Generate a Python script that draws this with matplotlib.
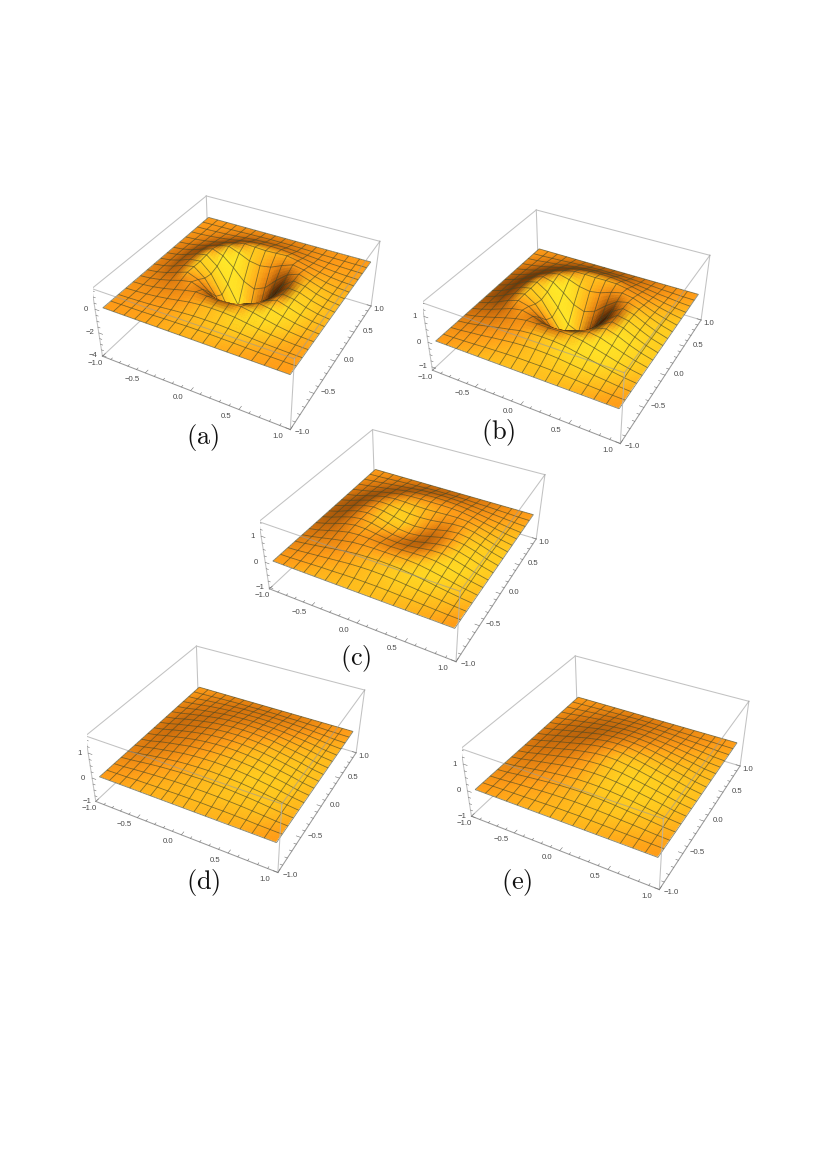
import numpy as np
import matplotlib
matplotlib.use("Agg")
import matplotlib.pyplot as plt
from matplotlib.colors import LinearSegmentedColormap
from mpl_toolkits.mplot3d.art3d import Poly3DCollection
from mpl_toolkits.mplot3d import proj3d

# heights, one quadrant (x>=0, y>=0) on the mesh nodes, centre at [0][0]
# the outer mesh line is z=0 and is padded on below
heights_a = [[-4.10,-3.40,-1.50,0.00,0.80,0.70,0.36,0.12],
             [-3.40,-2.70,-1.10,0.15,0.84,0.68,0.35,0.12],
             [-1.50,-1.10,-0.20,0.55,0.88,0.60,0.30,0.10],
             [0.00,0.15,0.55,0.88,0.72,0.45,0.23,0.08],
             [0.80,0.84,0.88,0.72,0.50,0.30,0.15,0.05],
             [0.70,0.68,0.60,0.45,0.30,0.18,0.09,0.03],
             [0.36,0.35,0.30,0.23,0.15,0.09,0.05,0.02],
             [0.12,0.12,0.10,0.08,0.05,0.03,0.02,0.01]]
heights_b = [[-1.10,-0.90,-0.30,0.28,0.60,0.52,0.32,0.13],
             [-0.90,-0.72,-0.15,0.35,0.61,0.51,0.31,0.13],
             [-0.30,-0.15,0.20,0.50,0.60,0.47,0.28,0.12],
             [0.28,0.35,0.50,0.60,0.53,0.38,0.23,0.10],
             [0.60,0.61,0.60,0.53,0.42,0.30,0.18,0.08],
             [0.52,0.51,0.47,0.38,0.30,0.21,0.12,0.05],
             [0.32,0.31,0.28,0.23,0.18,0.12,0.08,0.03],
             [0.13,0.13,0.12,0.10,0.08,0.05,0.03,0.01]]
heights_c = [[0.14,0.18,0.28,0.38,0.43,0.38,0.26,0.11],
             [0.18,0.21,0.30,0.39,0.43,0.37,0.25,0.11],
             [0.28,0.30,0.35,0.41,0.42,0.35,0.23,0.10],
             [0.38,0.39,0.41,0.42,0.39,0.30,0.19,0.08],
             [0.43,0.43,0.42,0.39,0.32,0.24,0.15,0.07],
             [0.38,0.37,0.35,0.30,0.24,0.17,0.11,0.05],
             [0.26,0.25,0.23,0.19,0.15,0.11,0.07,0.03],
             [0.11,0.11,0.10,0.08,0.07,0.05,0.03,0.01]]
heights_d = [[0.50,0.49,0.46,0.41,0.34,0.26,0.17,0.07],
             [0.49,0.48,0.45,0.40,0.33,0.25,0.17,0.07],
             [0.46,0.45,0.42,0.38,0.31,0.24,0.16,0.06],
             [0.41,0.40,0.38,0.34,0.28,0.21,0.14,0.06],
             [0.34,0.33,0.31,0.28,0.23,0.18,0.12,0.05],
             [0.26,0.25,0.24,0.21,0.18,0.14,0.09,0.04],
             [0.17,0.17,0.16,0.14,0.12,0.09,0.06,0.02],
             [0.07,0.07,0.06,0.06,0.05,0.04,0.02,0.01]]
heights_e = [[0.60,0.58,0.52,0.44,0.35,0.26,0.17,0.07],
             [0.58,0.56,0.50,0.43,0.34,0.25,0.16,0.07],
             [0.52,0.50,0.46,0.39,0.31,0.23,0.15,0.06],
             [0.44,0.43,0.39,0.34,0.27,0.20,0.13,0.05],
             [0.35,0.34,0.31,0.27,0.22,0.16,0.10,0.04],
             [0.26,0.25,0.23,0.20,0.16,0.12,0.08,0.03],
             [0.17,0.16,0.15,0.13,0.10,0.08,0.05,0.02],
             [0.07,0.07,0.06,0.05,0.04,0.03,0.02,0.01]]

panel_names = ["(a)", "(b)", "(c)", "(d)", "(e)"]
panel_heights = [heights_a, heights_b, heights_c, heights_d, heights_e]
z_limits = [(-4.08, 1.67), (-1.14, 1.51), (-1.07, 1.53), (-0.99, 1.66), (-1.0, 1.55)]
z_ticks = [[0, -2, -4], [1, 0, -1], [1, 0, -1], [1, 0, -1], [1, 0, -1]]
xy_ticks = [-1.0, -0.5, 0.0, 0.5, 1.0]

# box centre and axes size in pixels, label centre in pixels
centres = [(243, 298), (573, 312), (409, 531), (232, 745), (612, 758)]
sizes = [292, 292, 290, 283, 292]
label_pos = [(203, 437), (498, 433), (356, 658), (203, 882), (517, 882)]

W, H = 831, 1175
SUB = 4
ELEV, AZIM = 36.2, -61.6
# the surface stops a little short of the box walls
nodes = np.linspace(-0.94, 0.94, 17)

plt.rcParams["mathtext.fontset"] = "cm"
plt.rcParams["font.family"] = ["Liberation Sans", "DejaVu Sans"]

shade_map = LinearSegmentedColormap.from_list("shade", [
    (0.00, (0.25, 0.12, 0.02)),
    (0.23, (0.50, 0.25, 0.03)),
    (0.46, (0.85, 0.46, 0.05)),
    (0.66, (1.00, 0.61, 0.09)),
    (0.85, (1.00, 0.80, 0.12)),
    (1.00, (1.00, 0.92, 0.16))])
light = np.array([0.65, -0.5, 0.55])
light = light / np.linalg.norm(light)
toward_cam = np.array([np.cos(np.radians(ELEV)) * np.cos(np.radians(AZIM)),
                       np.cos(np.radians(ELEV)) * np.sin(np.radians(AZIM)),
                       np.sin(np.radians(ELEV))])


def full_grid(quadrant):
    q = np.pad(np.array(quadrant, dtype=float), ((0, 1), (0, 1)))
    q = np.concatenate([q[:0:-1], q], axis=0)
    return np.concatenate([q[:, :0:-1], q], axis=1)


def subdivide(A):
    # split each mesh quad, only so the shading can be blended across it
    pos = np.arange(16 * SUB + 1) / SUB
    i0 = np.minimum(pos.astype(int), 15)
    w = pos - i0
    A = A[i0] * (1 - w)[:, None] + A[i0 + 1] * w[:, None]
    return A[:, i0] * (1 - w) + A[:, i0 + 1] * w


def node_colours(Z, zlim):
    k = 1.8 * 0.4 / (zlim[1] - zlim[0])
    gy, gx = np.gradient(Z * k, nodes * 0.5, nodes * 0.5)
    n = np.dstack([-gx, -gy, np.ones_like(Z)])
    n = n / np.linalg.norm(n, axis=2, keepdims=True)
    s = (n @ light + 0.3) / 1.3
    return shade_map(np.clip(s, 0, 1))[..., :3]


def surface(ax, Z, zlim):
    X, Y = np.meshgrid(nodes, nodes)
    cols = node_colours(Z, zlim)
    P = np.dstack([subdivide(X), subdivide(Y), subdivide(Z)])
    C = np.dstack([subdivide(cols[..., c]) for c in range(3)])
    faces = np.stack([P[:-1, :-1], P[:-1, 1:], P[1:, 1:], P[1:, :-1]], axis=2).reshape(-1, 4, 3)
    fcol = ((C[:-1, :-1] + C[:-1, 1:] + C[1:, 1:] + C[1:, :-1]) / 4).reshape(-1, 3)
    fcol = np.column_stack([fcol, np.ones(len(fcol))])

    # mesh lines go in the same collection so the depth sort hides them behind the rim
    a = np.concatenate([P[::SUB, :-1].reshape(-1, 3), P[:-1, ::SUB].reshape(-1, 3)])
    b = np.concatenate([P[::SUB, 1:].reshape(-1, 3), P[1:, ::SUB].reshape(-1, 3)])
    shift = toward_cam * 0.07 * np.array([1, 1, (zlim[1] - zlim[0]) / 0.8])
    segs = np.stack([a, b, b, a], axis=1) + shift
    none = np.zeros((len(segs), 4))
    line = np.tile(MESH, (len(segs), 1))

    coll = Poly3DCollection(np.concatenate([faces, segs]),
                            facecolors=np.concatenate([fcol, none]),
                            edgecolors=np.concatenate([fcol, line]),
                            linewidths=0.6, zorder=2)
    ax.add_collection3d(coll)


def edge(ax, p, q, z=1, col="#c2c2c2", lw=0.75):
    ax.plot(*zip(p, q), color=col, lw=lw, zorder=z)


def tick_label(ax, txt, p, off):
    x2, y2, _ = proj3d.proj_transform(p[0], p[1], p[2], ax.get_proj())
    ax.annotate(txt, (x2, y2), xytext=(off[0] * 0.72, -off[1] * 0.72), textcoords="offset points",
                ha="center", va="center", fontsize=5.6, color="#4a4a4a", annotation_clip=False,
                zorder=5)


def fmt(v):
    return f"{v:.1f}".replace("-", "\u2212")


MESH = (0.28, 0.28, 0.15, 0.68)
fig = plt.figure(figsize=(W / 100, H / 100), dpi=100)

for name, q, zlim, zt, c, S, lab in zip(panel_names, panel_heights, z_limits, z_ticks, centres, sizes, label_pos):
    rect = [(c[0] - 0.5135 * S) / W, 1 - (c[1] + 0.5135 * S) / H, S / W, S / H]
    ax = fig.add_axes(rect, projection="3d", computed_zorder=False)
    ax.set_proj_type("persp", focal_length=0.44)
    ax.set_box_aspect((1, 1, 0.4))
    ax.view_init(elev=ELEV, azim=AZIM)
    ax.set_xlim(-1, 1)
    ax.set_ylim(-1, 1)
    ax.set_zlim(*zlim)
    ax.set_axis_off()
    ax.patch.set_visible(False)

    z0, z1 = zlim
    # box, back edges under the surface and front top edges over it
    edge(ax, (-1, 1, z0), (-1, -1, z0))
    edge(ax, (-1, 1, z0), (1, 1, z0))
    edge(ax, (-1, 1, z0), (-1, 1, z1))
    edge(ax, (1, 1, z0), (1, 1, z1))
    edge(ax, (-1, -1, z0), (-1, -1, z1))
    edge(ax, (-1, -1, z0), (1, -1, z0), col="#9a9a9a")
    edge(ax, (1, -1, z0), (1, 1, z0), col="#9a9a9a")
    edge(ax, (-1, 1, z1), (-1, -1, z1))
    edge(ax, (-1, 1, z1), (1, 1, z1))
    edge(ax, (-1, -1, z1), (1, -1, z1), z=3, col=(0.6, 0.6, 0.6, 0.6))
    edge(ax, (1, -1, z1), (1, 1, z1), z=3, col=(0.6, 0.6, 0.6, 0.6))
    edge(ax, (1, -1, z0), (1, -1, z1), z=3, col=(0.7, 0.7, 0.7, 0.8))

    surface(ax, full_grid(q), zlim)

    # tick marks
    for k in range(-10, 11):
        v = k / 10
        d = 0.045 if k % 5 == 0 else 0.025
        edge(ax, (v, -1, z0), (v, -1 + d, z0), z=4, col="#707070", lw=0.4)
        edge(ax, (1, v, z0), (1 - d, v, z0), z=4, col="#707070", lw=0.4)
    step = (zt[0] - zt[1]) / 4
    zv = np.arange(np.ceil(z0 / step), np.floor(z1 / step) + 1) * step
    for v in zv:
        d = 0.045 if v in zt else 0.025
        edge(ax, (-1, -1, v), (-1 + d, -1, v), z=4, col="#707070", lw=0.4)

    for v in xy_ticks:
        off = (-7, 7) if v == -1 else (-13, 7)
        tick_label(ax, fmt(v), (v, -1, z0), off)
        off = (12, 3) if v == -1 else (8, 4) if v == 1 else (14, -1)
        tick_label(ax, fmt(v), (1, v, z0), off)
    for v in zt:
        tick_label(ax, str(v).replace("-", "\u2212"), (-1, -1, v), (-9, 0))

    fig.text(lab[0] / W, 1 - lab[1] / H, r"$\mathrm{" + name + "}$", fontsize=19,
             ha="center", va="center", color="#111111")

fig.savefig("out.png", dpi=100, facecolor="white")
